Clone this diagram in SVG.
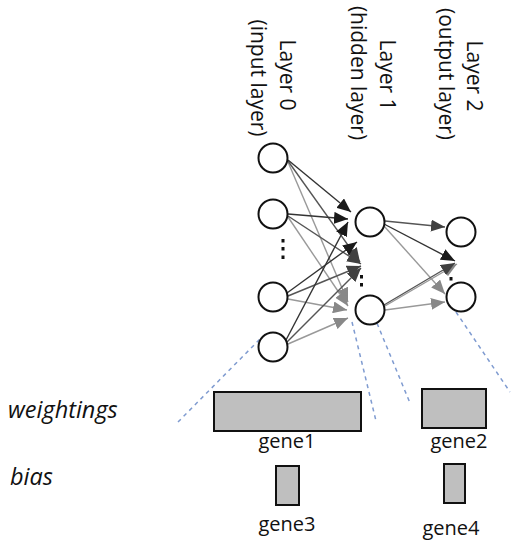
<svg xmlns="http://www.w3.org/2000/svg" width="518" height="550" viewBox="0 0 518 550">
<style>
.lbl{font-family:"Open Sans","Liberation Sans",sans-serif;font-size:21px;fill:#111}
.glbl{font-family:"Open Sans","Liberation Sans",sans-serif;font-size:20px;fill:#111}
.side{font-family:"Open Sans","Liberation Sans",sans-serif;font-size:23.5px;font-style:italic;fill:#111}
.node{fill:#fff;stroke:#111;stroke-width:2}
.gene{fill:#bfbfbf;stroke:#111;stroke-width:2}
.c1{stroke:#333;stroke-width:1.4;fill:none;marker-end:url(#m1)}
.c2{stroke:#555;stroke-width:1.4;fill:none;marker-end:url(#m2)}
.c3{stroke:#999;stroke-width:1.4;fill:none;marker-end:url(#m3)}
.dash{stroke:#7f9bd0;stroke-width:1.5;stroke-dasharray:4 4;fill:none}
.dot{fill:#111}
</style>
<defs>
<marker id="m1" markerUnits="userSpaceOnUse" markerWidth="14" markerHeight="12" refX="14" refY="6" orient="auto"><path d="M0,0 L14,6 L0,12 z" fill="#1a1a1a"/></marker>
<marker id="m2" markerUnits="userSpaceOnUse" markerWidth="14" markerHeight="12" refX="14" refY="6" orient="auto"><path d="M0,0 L14,6 L0,12 z" fill="#404040"/></marker>
<marker id="m3" markerUnits="userSpaceOnUse" markerWidth="14" markerHeight="12" refX="14" refY="6" orient="auto"><path d="M0,0 L14,6 L0,12 z" fill="#888"/></marker>
</defs>

<g id="labels">
<text class="lbl" text-anchor="middle" transform="translate(280,75) rotate(90)">Layer 0</text>
<text class="lbl" text-anchor="middle" transform="translate(251,78) rotate(90)">(input layer)</text>
<text class="lbl" text-anchor="middle" transform="translate(380,75) rotate(90)">Layer 1</text>
<text class="lbl" text-anchor="middle" transform="translate(351,73) rotate(90)">(hidden layer)</text>
<text class="lbl" text-anchor="middle" transform="translate(467,76) rotate(90)">Layer 2</text>
<text class="lbl" text-anchor="middle" transform="translate(439,74) rotate(90)">(output layer)</text>
<text class="side" x="8" y="418">weightings</text>
<text class="side" x="10" y="485">bias</text>
</g>

<g id="connectors">
<line class="c3" x1="288" y1="162" x2="348" y2="302"/>
<line class="c3" x1="288" y1="217" x2="348" y2="306"/>
<line class="c3" x1="288" y1="299" x2="347" y2="310"/>
<line class="c3" x1="288" y1="344" x2="348" y2="318"/>
<line class="c2" x1="288" y1="161" x2="360" y2="262"/>
<line class="c2" x1="288" y1="216" x2="361" y2="264"/>
<line class="c2" x1="288" y1="296" x2="361" y2="266"/>
<line class="c2" x1="287" y1="342" x2="361" y2="268"/>
<line class="c1" x1="288" y1="160" x2="351" y2="212"/>
<line class="c1" x1="288" y1="214" x2="348" y2="219"/>
<line class="c1" x1="286" y1="340" x2="348" y2="222"/>
<line class="c1" x1="287" y1="293" x2="357" y2="242"/>
<line class="c2" x1="385" y1="221" x2="445" y2="227"/>
<line class="c3" x1="384" y1="226" x2="445" y2="294"/>
<line class="c1" x1="384" y1="224" x2="455" y2="261"/>
<line class="c3" x1="385" y1="306" x2="457" y2="264"/>
<line class="c2" x1="384" y1="305" x2="455" y2="263"/>
<line class="c3" x1="385" y1="310" x2="445" y2="302"/>
<line class="dash" x1="178" y1="422" x2="261" y2="338"/>
<line class="dash" x1="352" y1="322" x2="376" y2="421"/>
<line class="dash" x1="374" y1="316" x2="410" y2="403"/>
<line class="dash" x1="456" y1="312" x2="510" y2="392"/>
</g>

<g id="input0"><circle class="node" cx="273" cy="158" r="14.5"/></g>
<g id="input1"><circle class="node" cx="273" cy="214" r="14.5"/></g>
<g id="input-dots"><rect class="dot" x="281.5" y="239" width="3" height="3.5"/><rect class="dot" x="281.5" y="247" width="3" height="3.5"/><rect class="dot" x="281.5" y="255.5" width="3" height="3.5"/></g>
<g id="input2"><circle class="node" cx="273" cy="297" r="14.5"/></g>
<g id="input3"><circle class="node" cx="273" cy="347" r="14.5"/></g>
<g id="hidden0"><circle class="node" cx="370" cy="222" r="14.5"/></g>
<g id="hidden-dots"><rect class="dot" x="360" y="275" width="3" height="3.5"/><rect class="dot" x="360" y="283" width="3" height="3.5"/></g>
<g id="hidden1"><circle class="node" cx="370" cy="310" r="14.5"/></g>
<g id="output0"><circle class="node" cx="461" cy="232" r="14.5"/></g>
<g id="output-dots"><rect class="dot" x="449.5" y="277" width="3" height="3.5"/></g>
<g id="output1"><circle class="node" cx="461" cy="297" r="14.5"/></g>

<g id="gene1"><rect class="gene" x="214" y="392" width="147" height="39"/><text class="glbl" x="287" y="448" text-anchor="middle">gene1</text></g>
<g id="gene2"><rect class="gene" x="422" y="389" width="64" height="39"/><text class="glbl" x="459" y="448" text-anchor="middle">gene2</text></g>
<g id="gene3"><rect class="gene" x="276" y="466" width="23" height="39"/><text class="glbl" x="287" y="531" text-anchor="middle">gene3</text></g>
<g id="gene4"><rect class="gene" x="444" y="464" width="21" height="39"/><text class="glbl" x="451" y="535" text-anchor="middle">gene4</text></g>
</svg>
